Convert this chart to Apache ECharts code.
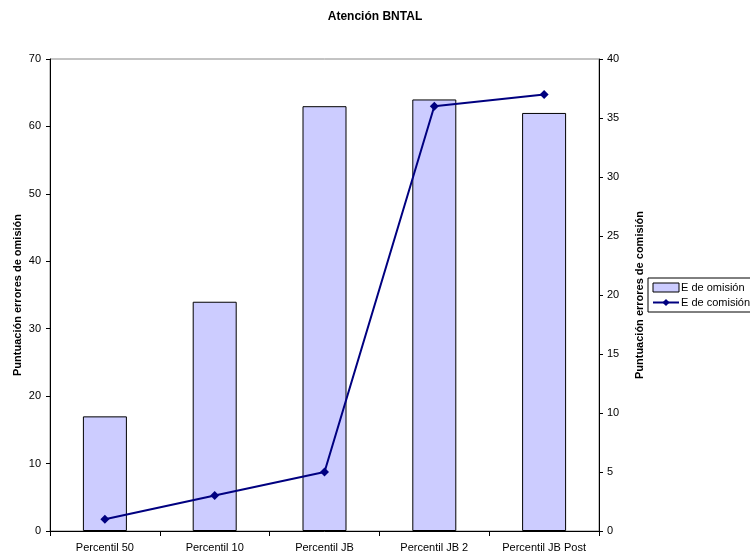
<!DOCTYPE html>
<html>
<head>
<meta charset="utf-8">
<script src="https://cdn.jsdelivr.net/npm/echarts@6/dist/echarts.min.js"></script>
<style>
  html, body { margin: 0; padding: 0; background: #fff; }
  #chart { width: 750px; height: 557px; }
</style>
</head>
<body>
<div id="chart"></div>
<script>
// Categories and series values
const categories = ['Percentil 50', 'Percentil 10', 'Percentil JB', 'Percentil JB 2', 'Percentil JB Post'];
const omision = [17, 34, 63, 64, 62];
const comision = [1, 3, 5, 36, 37];

const FONT = '"Liberation Sans", Arial, sans-serif';

const chart = echarts.init(document.getElementById('chart'), null, { renderer: 'canvas' });
chart.setOption({
  backgroundColor: '#ffffff',
  animation: false,
  title: {
    text: 'Atención BNTAL',
    left: 'center',
    top: 6,
    textStyle: { fontFamily: FONT, fontSize: 12, fontWeight: 'bold', color: '#000' }
  },
  legend: {
    orient: 'vertical',
    left: 648,
    top: 278,
    padding: [4, 6, 4, 4],
    itemGap: 4,
    itemWidth: 26,
    itemHeight: 9,
    borderColor: '#000',
    borderWidth: 1,
    borderRadius: 0,
    textStyle: { fontFamily: FONT, fontSize: 11, color: '#000', padding: [0, 0, 0, -3] },
    data: [
      { name: 'E de omisión', icon: 'rect', itemStyle: { color: '#CCCCFF', borderColor: '#000', borderWidth: 1 } },
      { name: 'E de comisión' }
    ]
  },
  grid: { left: 50, right: 151, top: 59, bottom: 26, show: true, borderColor: '#888', borderWidth: 1 },
  xAxis: {
    type: 'category',
    data: categories,
    axisLine: { lineStyle: { color: '#000', width: 1 } },
    axisTick: { show: true, alignWithLabel: false, length: 5, lineStyle: { color: '#000' } },
    axisLabel: { fontFamily: FONT, fontSize: 11, color: '#000', margin: 11 }
  },
  yAxis: [
    {
      type: 'value',
      min: 0, max: 70, interval: 10,
      name: 'Puntuación errores de omisión',
      nameLocation: 'middle',
      nameGap: 27,
      nameMoveOverlap: false,
      nameTextStyle: { fontFamily: FONT, fontSize: 11, fontWeight: 'bold', color: '#000' },
      axisLine: { show: true, lineStyle: { color: '#000', width: 1 } },
      axisTick: { show: true, length: 4, lineStyle: { color: '#000' } },
      axisLabel: { fontFamily: FONT, fontSize: 11, color: '#000', margin: 9 },
      splitLine: { show: false }
    },
    {
      type: 'value',
      min: 0, max: 40, interval: 5,
      name: 'Puntuación errores de comisión',
      nameLocation: 'middle',
      nameRotate: 90,
      nameGap: 35,
      nameMoveOverlap: false,
      nameTextStyle: { fontFamily: FONT, fontSize: 11, fontWeight: 'bold', color: '#000' },
      axisLine: { show: true, lineStyle: { color: '#000', width: 1 } },
      axisTick: { show: true, length: 4, lineStyle: { color: '#000' } },
      axisLabel: { fontFamily: FONT, fontSize: 11, color: '#000', margin: 8 },
      splitLine: { show: false }
    }
  ],
  series: [
    {
      name: 'E de omisión',
      type: 'bar',
      yAxisIndex: 0,
      data: omision,
      barWidth: 44,
      itemStyle: { color: '#CCCCFF', borderColor: '#000', borderWidth: 1 }
    },
    {
      name: 'E de comisión',
      type: 'line',
      yAxisIndex: 1,
      data: comision,
      symbol: 'diamond',
      symbolSize: 9,
      lineStyle: { color: '#000080', width: 2 },
      itemStyle: { color: '#000080' }
    }
  ]
});
</script>
</body>
</html>
